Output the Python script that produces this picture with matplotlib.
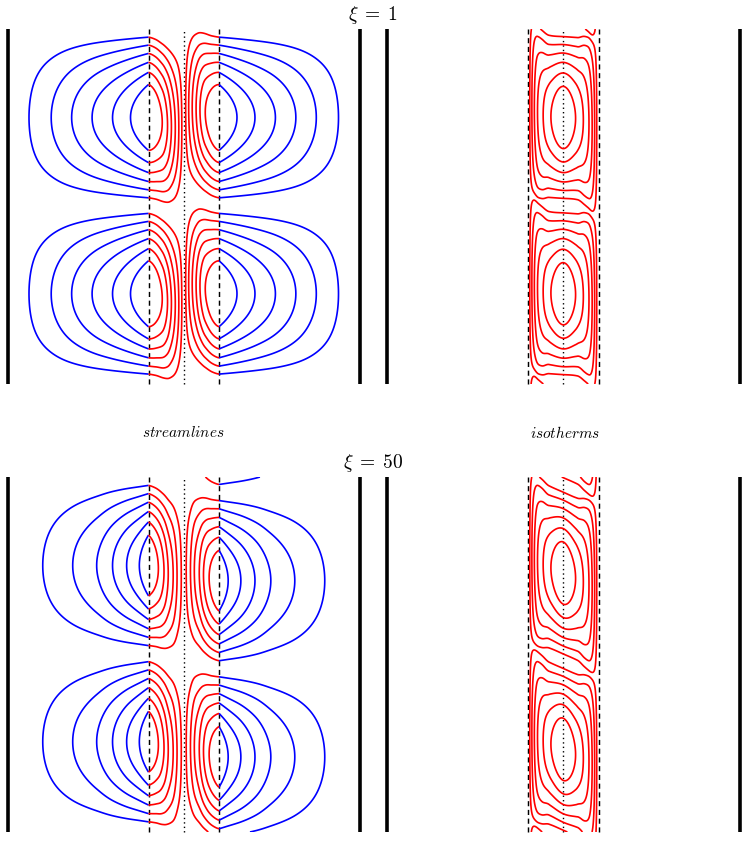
import numpy as np
import matplotlib
matplotlib.use("Agg")
import matplotlib.pyplot as plt

plt.rcParams['mathtext.fontset'] = 'cm'

# ---------------- geometry (units: porous half-width = 1) ----------------
WALL = 5.0          # channel walls at x = +-5
LAYER = 1.0         # porous layer |x| < 1
PERIOD = 10.0       # vertical wavelength
HEIGHT = 10.07      # shown height
Y_CELL = 7.56       # centre of the upper cell

# contour levels (fraction of peak)
levels_pos = [1/7, 2/7, 3/7, 4/7, 5/7, 6/7]

# ---------------- streamlines: amplitude profiles (left half) ----------------
fluid_x_xi1 = [-5.0, -4.39, -3.76, -3.18, -2.60, -2.02, -1.51, -1.0]
fluid_a_xi1 = [0.0, 1/7, 2/7, 3/7, 4/7, 5/7, 6/7, 1.03]
porous_x_xi1 = [-1.0, -0.61, -0.46, -0.35, -0.24, -0.14, -0.055, 0.0]
porous_a_xi1 = [1.03, 6/7, 5/7, 4/7, 3/7, 2/7, 1/7, 0.0]

fluid_x_xi50 = [-5.0, -4.00, -3.15, -2.47, -2.02, -1.62, -1.26, -1.0]
fluid_a_xi50 = [0.0, 1/7, 2/7, 3/7, 4/7, 5/7, 6/7, 1.0]
porous_x_xi50 = [-1.0, -0.72, -0.56, -0.44, -0.30, -0.19, -0.07, 0.0]
porous_a_xi50 = [1.0, 6/7, 5/7, 4/7, 3/7, 2/7, 1/7, 0.0]

# downward shift of the cells (left side / right side)
shift_left_xi1, shift_right_xi1 = 0.0, 0.0
shift_left_xi50, shift_right_xi50 = 0.0, 0.43

# extra shift inside the porous layer (left half, mirrored with opposite sign)
hook_x = [-1.0, -0.8, -0.6, -0.4, -0.2, 0.0]
hook_s = [0.0, 0.05, 0.15, 0.25, 0.30, 0.30]

# ---------------- isotherms ----------------
iso_x = [-1.0, -0.95, -0.89, -0.82, -0.73, -0.57, -0.35, 0.0,
         0.35, 0.57, 0.73, 0.82, 0.89, 0.95, 1.0]
iso_b = [0.0, 1/7, 2/7, 3/7, 4/7, 5/7, 6/7, 1.0,
         6/7, 5/7, 4/7, 3/7, 2/7, 1/7, 0.0]
flat_x = [-1.0, -0.9, -0.75, -0.6, -0.4, 0.0, 0.4, 0.6, 0.75, 0.9, 1.0]
flat_p = [0.3, 0.35, 0.45, 0.6, 0.85, 0.95, 0.85, 0.6, 0.45, 0.35, 0.3]
iso_shift_x = [-1.0, -0.85, -0.7, -0.5, -0.25, 0.0, 0.25, 0.5, 0.7, 0.85, 1.0]
iso_shift_xi1 = [-0.35, -0.28, -0.14, -0.05, -0.015, 0.0, 0.015, 0.05, 0.14, 0.28, 0.35]
iso_shift_xi50 = [-0.52, -0.44, -0.33, -0.22, -0.11, 0.0, 0.11, 0.22, 0.33, 0.44, 0.52]
iso_base_xi1 = 0.0
iso_base_xi50 = 0.215

titles = [r'$\xi\;=\;1$', r'$\xi\;=\;50$']
labels = [r'$streamlines$', r'$isotherms$']


def pchip(xk, yk, x):
    xk = np.asarray(xk, float)
    yk = np.asarray(yk, float)
    n = len(xk)
    h = np.diff(xk)
    dl = np.diff(yk) / h
    d = np.zeros(n)
    for k in range(1, n - 1):
        if dl[k - 1] * dl[k] > 0:
            w1 = 2 * h[k] + h[k - 1]
            w2 = h[k] + 2 * h[k - 1]
            d[k] = (w1 + w2) / (w1 / dl[k - 1] + w2 / dl[k])

    def end(h0, h1, m0, m1):
        s = ((2 * h0 + h1) * m0 - h0 * m1) / (h0 + h1)
        if np.sign(s) != np.sign(m0):
            s = 0.0
        elif np.sign(m0) != np.sign(m1) and abs(s) > 3 * abs(m0):
            s = 3 * m0
        return s
    if n > 2:
        d[0] = end(h[0], h[1], dl[0], dl[1])
        d[-1] = end(h[-1], h[-2], dl[-1], dl[-2])
    else:
        d[:] = dl[0]
    x = np.clip(np.asarray(x, float), xk[0], xk[-1])
    i = np.clip(np.searchsorted(xk, x) - 1, 0, n - 2)
    t = (x - xk[i]) / h[i]
    h00 = 2 * t**3 - 3 * t**2 + 1
    h10 = t**3 - 2 * t**2 + t
    h01 = -2 * t**3 + 3 * t**2
    h11 = t**3 - t**2
    return h00 * yk[i] + h10 * h[i] * d[i] + h01 * yk[i + 1] + h11 * h[i] * d[i + 1]


def phase(y, s):
    return 2 * np.pi * (y - Y_CELL + s) / PERIOD


LW = 1.2
lev = sorted([-v for v in levels_pos] + levels_pos)
y = np.linspace(0, HEIGHT, 900)


def frame(ax):
    ax.set_xlim(-WALL, WALL)
    ax.set_ylim(0, HEIGHT)
    ax.axis('off')
    for xw in (-WALL, WALL):
        ax.plot([xw, xw], [0, HEIGHT], color='black', lw=2.6,
                solid_capstyle='butt', clip_on=False)
    for xd in (-LAYER, LAYER):
        ax.plot([xd, xd], [0, HEIGHT], color='black', lw=1.05,
                linestyle=(0, (3.5, 2.5)), clip_on=False)
    ax.plot([0, 0], [0, HEIGHT], color='black', lw=1.0,
            linestyle=(0, (1, 2.2)), clip_on=False)


def streamlines(ax, fx, fa, px, pa, sl, sr):
    # left fluid
    x = np.linspace(-WALL, -LAYER, 500)
    X, Y = np.meshgrid(x, y)
    Z = pchip(fx, fa, X) * np.cos(phase(Y, sl))
    ax.contour(X, Y, Z, levels=lev, colors='blue', linewidths=LW, linestyles='solid')
    # right fluid
    x = np.linspace(LAYER, WALL, 500)
    X, Y = np.meshgrid(x, y)
    Z = pchip(fx, fa, -X) * np.cos(phase(Y, sr))
    ax.contour(X, Y, Z, levels=lev, colors='blue', linewidths=LW, linestyles='solid')
    # porous
    x = np.linspace(-LAYER, LAYER, 600)
    X, Y = np.meshgrid(x, y)
    amp = pchip(px, pa, -np.abs(X))
    hk = pchip(hook_x, hook_s, -np.abs(X))
    s = np.where(X < 0, sl + hk, sr - hk)
    Z = amp * np.cos(phase(Y, s))
    ax.contour(X, Y, Z, levels=lev, colors='red', linewidths=LW, linestyles='solid')


def isotherms(ax, shift, base):
    x = np.linspace(-LAYER, LAYER, 600)
    X, Y = np.meshgrid(x, y)
    B = pchip(iso_x, iso_b, X)
    p = pchip(flat_x, flat_p, X)
    s = base + pchip(iso_shift_x, shift, X)
    c = np.cos(phase(Y, s))
    Z = B * np.sign(c) * np.abs(c) ** p
    ax.contour(X, Y, Z, levels=lev, colors='red', linewidths=LW, linestyles='solid')


fig = plt.figure(figsize=(7.47, 8.54), dpi=100)
W, H = 747.0, 854.0
panel_left = [7.5, 387.0]
panel_top = [30.0, 478.0]
pw, ph = 352.5, 355.0

for r in range(2):
    axs = []
    for c in range(2):
        ax = fig.add_axes([panel_left[c] / W, 1 - (panel_top[r] + ph) / H, pw / W, ph / H])
        frame(ax)
        axs.append(ax)
    if r == 0:
        streamlines(axs[0], fluid_x_xi1, fluid_a_xi1, porous_x_xi1, porous_a_xi1,
                    shift_left_xi1, shift_right_xi1)
        isotherms(axs[1], iso_shift_xi1, iso_base_xi1)
    else:
        streamlines(axs[0], fluid_x_xi50, fluid_a_xi50, porous_x_xi50, porous_a_xi50,
                    shift_left_xi50, shift_right_xi50)
        isotherms(axs[1], iso_shift_xi50, iso_base_xi50)
    fig.text(373.5 / W, 1 - (panel_top[r] - 15) / H, titles[r], ha='center',
             va='center', fontsize=14)

fig.text(183.0 / W, 1 - 433.0 / H, labels[0], ha='center', va='center', fontsize=11)
fig.text(565.0 / W, 1 - 433.0 / H, labels[1], ha='center', va='center', fontsize=11)

fig.savefig('out.png', dpi=100)
